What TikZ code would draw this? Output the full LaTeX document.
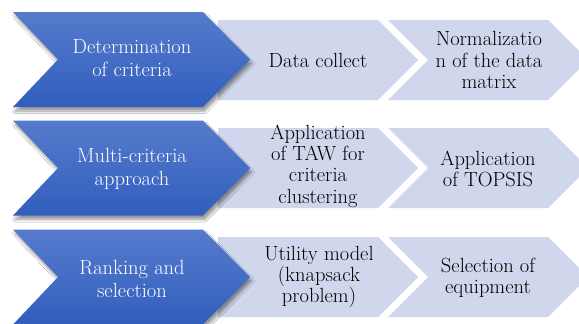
\documentclass[tikz,border=0pt]{standalone}
\usetikzlibrary{shadows.blur}
\definecolor{chevlight}{RGB}{208,215,236}
\definecolor{bluetop}{RGB}{86,123,204}
\definecolor{bluebot}{RGB}{49,94,189}
\begin{document}
\begin{tikzpicture}[x=1pt,y=-1pt,
  bluechev/.style={top color=bluetop,bottom color=bluebot,
    blur shadow={shadow xshift=2pt,shadow yshift=-4pt,shadow blur radius=2.5pt,shadow blur steps=8,shadow opacity=40}},
  lightchev/.style={fill=chevlight},
  btext/.style={text=white,align=center,inner sep=0pt,font=\fontsize{20.5}{22.7}\selectfont},
  ltext/.style={text=black,align=center,inner sep=0pt,font=\fontsize{20.5}{21.3}\selectfont}]
\clip (0,0) rectangle (579,324);
\fill[white] (0,0) rectangle (579,324);
% rows: blue centre / light centre
\foreach \bc/\lc in {59.5/60,168/168,277/277}{
  \fill[lightchev] (218,\lc-40) -- (378,\lc-40) -- (418,\lc) -- (378,\lc+40) -- (218,\lc+40) -- cycle;
  \fill[lightchev] (388,\lc-40) -- (548,\lc-40) -- (588,\lc) -- (548,\lc+40) -- (388,\lc+40) -- (428,\lc) -- cycle;
  \path[bluechev] (13,\bc-47.5) -- (203,\bc-47.5) -- (250,\bc) -- (203,\bc+47.5) -- (13,\bc+47.5) -- (58,\bc) -- cycle;
}
% row 1
\node[btext] (r1a) at (132,58) {Determination\\of criteria};
\node[ltext] (r1b) at (318,60) {Data collect};
\node[ltext] (r1c) at (489,60) {Normalizatio\\n of the data\\matrix};
% row 2
\node[btext] (r2a) at (132,169) {Multi-criteria\\approach};
\node[ltext] (r2b) at (318,166) {Application\\of TAW for\\criteria\\clustering};
\node[ltext] (r2c) at (488,169) {Application\\of TOPSIS};
% row 3
\node[btext] (r3a) at (132,279) {Ranking and\\selection};
\node[ltext] (r3b) at (319,277) {Utility model\\(knapsack\\problem)};
\node[ltext] (r3c) at (488,278) {Selection of\\equipment};
\end{tikzpicture}
\end{document}
